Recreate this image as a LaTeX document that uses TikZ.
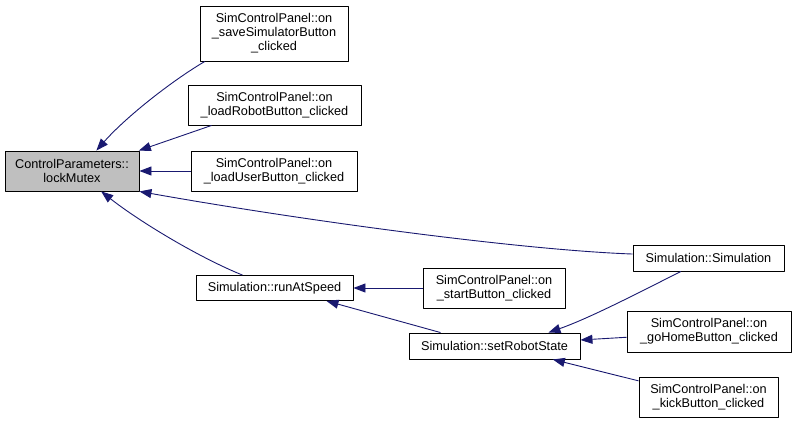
\documentclass[tikz,border=0pt]{standalone}
\usepackage{fontspec}
\setmainfont{Liberation Sans}
\usetikzlibrary{arrows.meta}
\definecolor{callblue}{RGB}{25,25,112}
\definecolor{rootgray}{RGB}{191,191,191}
\begin{document}
\begin{tikzpicture}[x=1pt,y=-1pt,line join=round,
  fn/.style={draw=black,line width=0.9pt,fill=white,inner sep=0pt,align=center,
    font=\fontsize{12.7}{14}\selectfont},
  fnroot/.style={fn,fill=rootgray},
  call/.style={draw=callblue,line width=0.9pt,-{Triangle[length=12pt,width=9pt]}}]
  \useasboundingbox (0,0) rectangle (796,423);
  \node[fnroot,minimum width=134pt,minimum height=40pt] (lockMutex) at (72,171) {ControlParameters::\\lockMutex};
  \node[fn,minimum width=148pt,minimum height=55pt] (saveSim) at (274,33.5) {SimControlPanel::on\\\_saveSimulatorButton\\\_clicked};
  \node[fn,minimum width=173pt,minimum height=40pt] (loadRobot) at (274.5,105) {SimControlPanel::on\\\_loadRobotButton\_clicked};
  \node[fn,minimum width=166pt,minimum height=40pt] (loadUser) at (274,171) {SimControlPanel::on\\\_loadUserButton\_clicked};
  \node[fn,minimum width=157pt,minimum height=25pt] (runAtSpeed) at (274.5,288) {Simulation::runAtSpeed};
  \node[fn,minimum width=151pt,minimum height=26pt] (simCtor) at (708.5,258) {Simulation::Simulation};
  \node[fn,minimum width=142pt,minimum height=40pt] (startBtn) at (494,288) {SimControlPanel::on\\\_startButton\_clicked};
  \node[fn,minimum width=171pt,minimum height=26pt] (setRobotState) at (494.5,346) {Simulation::setRobotState};
  \node[fn,minimum width=164pt,minimum height=41pt] (goHome) at (709,331.5) {SimControlPanel::on\\\_goHomeButton\_clicked};
  \node[fn,minimum width=139pt,minimum height=40pt] (kickBtn) at (708.5,397) {SimControlPanel::on\\\_kickButton\_clicked};
  % callers of lockMutex
  \draw[call] (saveSim.202) .. controls (170,82) and (125,118) .. (lockMutex.40);
  \draw[call] (loadRobot.198) -- (lockMutex.17);
  \draw[call] (loadUser.west) -- (lockMutex.east);
  \draw[call] (simCtor.177) .. controls (520,250) and (300,220) .. (lockMutex.south east);
  \draw[call] (runAtSpeed.158) .. controls (200,258) and (140,222) .. (lockMutex.325);
  % callers of runAtSpeed
  \draw[call] (startBtn.west) -- (runAtSpeed.east);
  \draw[call] (setRobotState.166) -- (runAtSpeed.346);
  % callers of setRobotState
  \draw[call] (simCtor.206) .. controls (640,292) and (590,318) .. (setRobotState.14);
  \draw[call] (goHome.184) -- (setRobotState.4);
  \draw[call] (kickBtn.167) -- (setRobotState.347);
\end{tikzpicture}
\end{document}
